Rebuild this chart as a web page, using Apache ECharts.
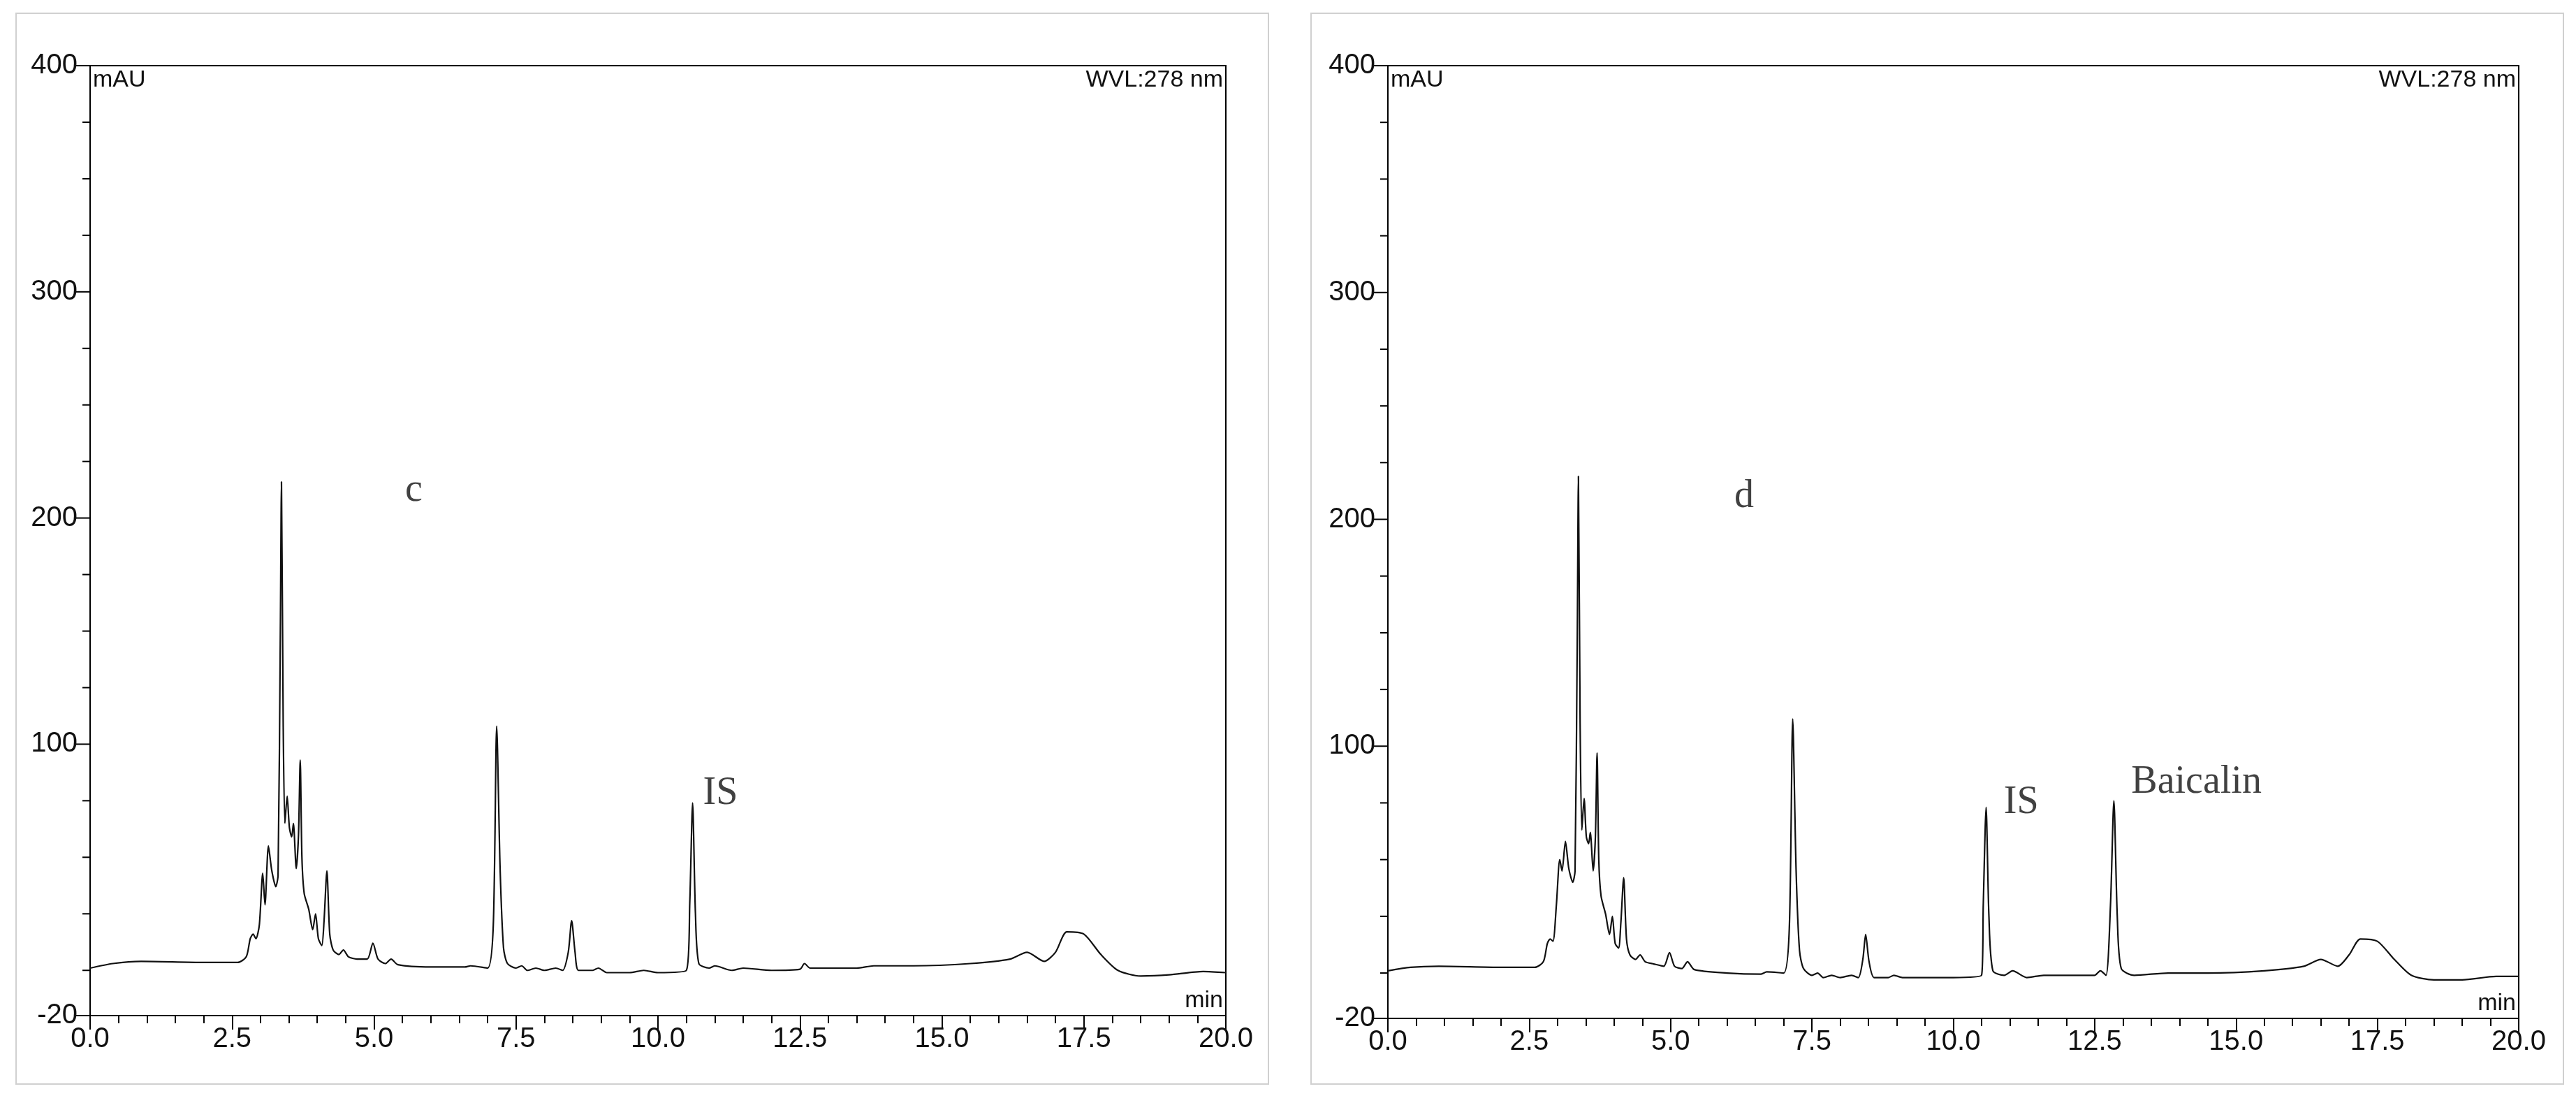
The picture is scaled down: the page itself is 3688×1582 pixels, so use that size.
<!DOCTYPE html>
<html><head><meta charset="utf-8">
<script src="https://cdn.jsdelivr.net/npm/echarts@6/dist/echarts.min.js"></script>
<style>html,body{margin:0;background:#fff}#c{width:3688px;height:1582px}</style>
</head><body><div id="c"></div>
<script>
const xLabels=[0,2.5,5,7.5,10,12.5,15,17.5,20];
const yLabeled=[-20,100,200,300,400];
const yTicks=[-20,0,25,50,75,100,125,150,175,200,225,250,275,300,325,350,375,400];
const traceC=[[0,1],[0.4,3],[0.9,4],[2.0,3.5],[2.6,3.5],[2.75,6],[2.82,14],[2.87,16],[2.92,14],[2.98,20],[3.04,43],[3.08,29],[3.14,55],[3.2,44],[3.27,37],[3.31,42],[3.35,150],[3.37,216],[3.4,110],[3.43,65],[3.47,77],[3.51,63],[3.55,59],[3.58,65],[3.63,45],[3.67,60],[3.7,93],[3.73,50],[3.77,34],[3.85,27],[3.92,18],[3.97,25],[4.02,14],[4.08,11],[4.12,22],[4.17,44],[4.22,16],[4.28,9],[4.38,7],[4.46,9],[4.55,6],[4.7,5],[4.88,5],[4.98,12],[5.07,5],[5.2,3],[5.3,5],[5.42,2.5],[6,1.5],[6.6,1.5],[6.7,2],[7.0,1],[7.1,20],[7.16,108],[7.22,45],[7.28,10],[7.35,3],[7.5,1],[7.6,2],[7.7,0],[7.85,1],[8.0,0],[8.2,1],[8.32,0],[8.42,8],[8.48,22],[8.54,8],[8.6,0],[8.85,0],[8.95,1],[9.1,-1],[9.5,-1],[9.75,0],[10.0,-1],[10.5,0],[10.56,30],[10.61,74],[10.66,25],[10.72,3],[10.9,1],[11.0,2],[11.3,0],[11.5,1],[12.0,0],[12.5,0.5],[12.58,3],[12.68,1],[13.5,1],[13.8,2],[14.5,2],[15.5,3],[16.2,5],[16.5,8],[16.8,4],[17.0,8],[17.2,17],[17.5,16],[17.8,7],[18.1,0],[18.5,-2.5],[19.0,-2],[19.6,-0.5],[20,-1]];
const traceD=[[0,1],[0.4,2.5],[0.9,3],[2.0,2.5],[2.6,2.5],[2.75,5],[2.82,13],[2.87,15],[2.92,14],[2.98,30],[3.04,50],[3.08,45],[3.14,58],[3.2,46],[3.27,40],[3.31,45],[3.35,150],[3.37,219],[3.4,110],[3.43,63],[3.47,77],[3.51,60],[3.55,57],[3.58,62],[3.63,45],[3.67,60],[3.7,97],[3.73,50],[3.77,34],[3.85,26],[3.92,17],[3.97,25],[4.02,13],[4.08,11],[4.12,22],[4.17,42],[4.22,15],[4.28,8],[4.38,6],[4.46,8],[4.55,5],[4.7,4],[4.88,3],[4.98,9],[5.07,3],[5.2,2],[5.3,5],[5.42,1.5],[6,0],[6.6,-0.5],[6.7,0.5],[7.0,0],[7.1,20],[7.16,112],[7.22,45],[7.28,10],[7.35,2],[7.5,-1],[7.6,0],[7.7,-2],[7.85,-1],[8.0,-2],[8.2,-1],[8.32,-2],[8.4,6],[8.45,17],[8.51,5],[8.6,-2],[8.85,-2],[8.95,-1],[9.1,-2],[9.5,-2],[9.75,-2],[10.0,-2],[10.5,-1],[10.53,30],[10.58,73],[10.63,25],[10.7,1],[10.9,-1],[11.05,1],[11.3,-2],[11.6,-1],[12.0,-1],[12.5,-1],[12.6,1],[12.7,-1],[12.78,30],[12.84,76],[12.9,25],[12.97,2],[13.2,-1],[13.8,0],[14.5,0],[15.5,1],[16.2,3],[16.5,6],[16.8,3],[17.0,8],[17.2,15],[17.5,14],[17.8,6],[18.1,-1],[18.5,-3],[19.0,-3],[19.6,-1.5],[20,-1.5]];
const notesC=[[5.7,212,'c'],[11.1,78,'IS']];
const notesD=[[6.3,210,'d'],[11.2,75,'IS'],[14.3,84,'Baicalin']];

const NF='"Liberation Sans Narrow","Liberation Sans",Arial,sans-serif';
function xA(g){return {type:'value',gridIndex:g,min:0,max:20,interval:2.5,
 axisLine:{onZero:false,lineStyle:{color:'#000',width:2}},
 axisTick:{length:20,lineStyle:{color:'#000',width:2}},
 minorTick:{show:true,splitNumber:5,length:11,lineStyle:{color:'#000',width:2}},
 splitLine:{show:false},
 axisLabel:{margin:14,fontSize:40,color:'#111',fontFamily:NF,formatter:v=>xLabels.includes(v)?v.toFixed(1):''}};}
function yA(g){return {type:'value',gridIndex:g,min:-20,max:400,interval:5,
 axisLine:{lineStyle:{color:'#000',width:2}},axisTick:{show:false},splitLine:{show:false},
 axisLabel:{margin:18,fontSize:40,color:'#111',fontFamily:NF,formatter:v=>yLabeled.includes(v)?String(v):''}};}
function ticks(g){return {type:'custom',xAxisIndex:g,yAxisIndex:g,silent:true,
 data:yTicks.map(v=>[0,v]),
 renderItem:(p,api)=>{const pt=api.coord([0,api.value(1)]);const v=api.value(1);const L=yLabeled.includes(v)?20:11;
  return {type:'line',shape:{x1:pt[0]-L,y1:pt[1],x2:pt[0],y2:pt[1]},style:{stroke:'#000',lineWidth:2}};}};}
function trace(g,d){return {type:'line',xAxisIndex:g,yAxisIndex:g,data:d,showSymbol:false,smooth:0.25,
 lineStyle:{color:'#111',width:2.2},silent:true};}
function notes(g,d){return {type:'scatter',xAxisIndex:g,yAxisIndex:g,symbolSize:0,silent:true,
 data:d.map(n=>({value:[n[0],n[1]],name:n[2]})),
 label:{show:true,position:'inside',formatter:p=>p.name,fontFamily:'"Liberation Serif","DejaVu Serif",serif',fontSize:56,color:'#111'}};}
const grids=[{left:129,right:1933,top:94,bottom:128},{left:1987,right:82,top:94,bottom:124}];
const txt=[];
grids.forEach((g,i)=>{
 const L=g.left,R=3688-g.right,T=g.top,B=1582-g.bottom;
 txt.push({type:'rect',shape:{x:i?1877:23,y:19,width:1793,height:1533},style:{fill:'none',stroke:'#d0d0d0',lineWidth:2}});
 txt.push({type:'text',x:L+4,y:T+4,style:{text:'mAU',fontSize:34,fontFamily:NF,fill:'#111'}});
 txt.push({type:'text',x:R-4,y:T+4,style:{text:'WVL:278 nm',fontSize:34,fontFamily:NF,fill:'#111',align:'right'}});
 txt.push({type:'text',x:R-4,y:B-4,style:{text:'min',fontSize:34,fontFamily:NF,fill:'#111',align:'right',verticalAlign:'bottom'}});
});
const ch=echarts.init(document.getElementById('c'));
ch.setOption({animation:false,backgroundColor:'#fff',
 grid:grids.map(g=>Object.assign({show:true,borderColor:'#000',borderWidth:2},g)),
 xAxis:[xA(0),xA(1)],yAxis:[yA(0),yA(1)],
 series:[trace(0,traceC),trace(1,traceD),ticks(0),ticks(1),notes(0,notesC),notes(1,notesD)],
 graphic:txt});
</script></body></html>
